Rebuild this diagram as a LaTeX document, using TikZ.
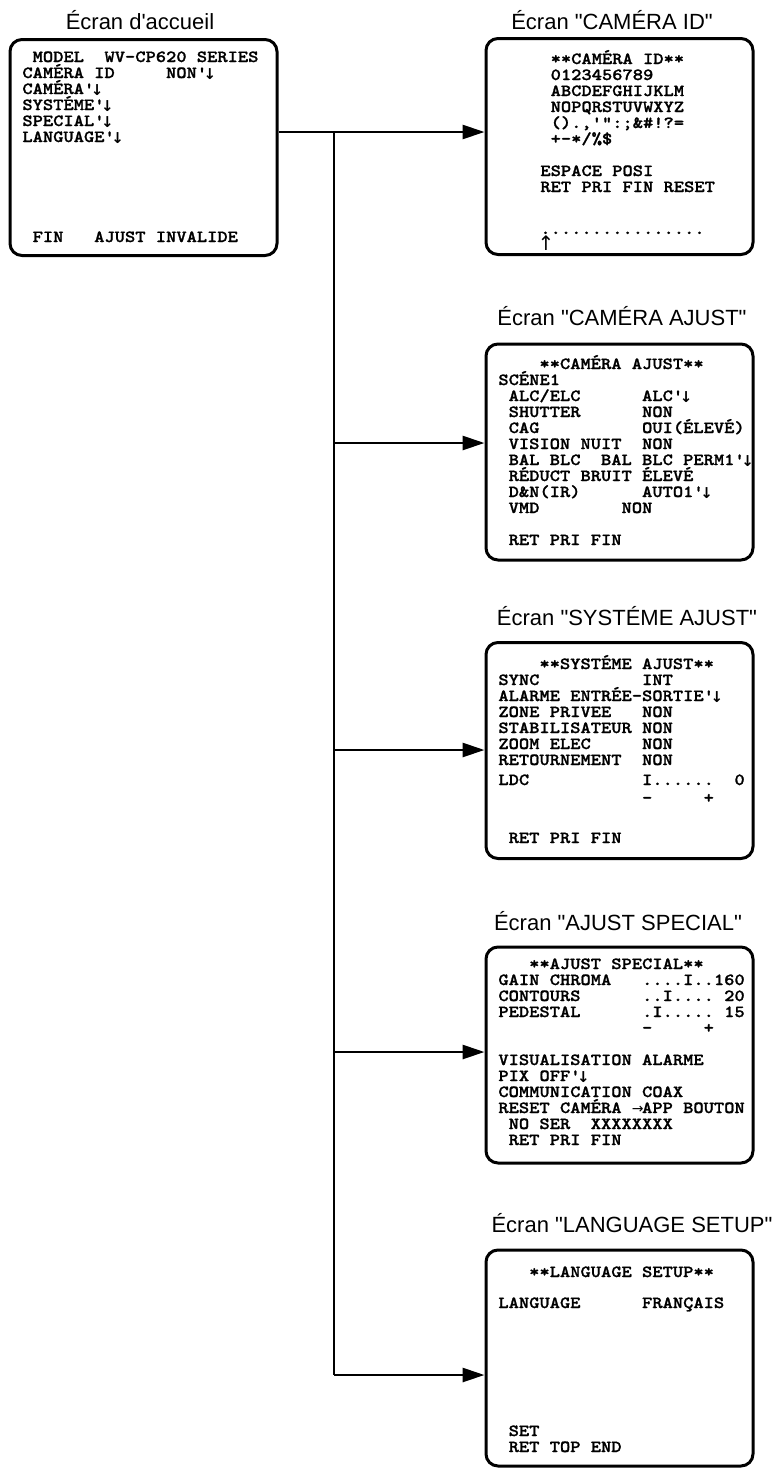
\documentclass[tikz,border=0pt]{standalone}
\usepackage{fontspec}
\usepackage{tikz}
\usetikzlibrary{positioning, arrows.meta, calc}
\newfontfamily\capfont{Liberation Sans}[Ligatures=TeXOff]
\newfontfamily\osdfont{lmmonolt10-bold}[Extension=.otf, FakeStretch=1.15, FakeBold=1.2, Ligatures=TeXOff]
\newfontfamily\symbfont{DejaVu Sans}
\newcommand\retmark{'\kern-0.2em\raisebox{-0.9pt}{\symbfont\bfseries\fontsize{7.5}{7.5}\selectfont ↓}}
\newcommand\rarr{\rlap{\symbfont\fontsize{7}{7}\selectfont →}~}
\tikzset{
    screen/.style={
        draw, line width=1.5pt, rounded corners=6pt,
        minimum width=133.5pt, minimum height=108pt, inner sep=0pt
    },
    osd/.style={
        font=\osdfont\fontsize{8.5}{8}\selectfont\frenchspacing,
        align=left, anchor=base west, inner sep=0pt
    },
    caption/.style={
        font=\capfont\fontsize{11}{12}\selectfont, anchor=base, inner sep=0pt
    },
    conn/.style={
        line width=1.4pt, -{Triangle[length=11pt,width=7pt]}
    },
    trunk/.style={
        line width=1.3pt
    }
}
\begin{document}
\begin{tikzpicture}[x=0.5pt, y=-0.5pt]
    \useasboundingbox (0,0) rectangle (778,1468);

    \node[screen] (home) at (143.5,147.5) {};
    \node[screen] (idscr) at (619.5,146.5) {};
    \node[screen] (camscr) at (619.5,452) {};
    \node[screen] (sysscr) at (619.5,750.5) {};
    \node[screen] (specscr) at (619.5,1055) {};
    \node[screen] (langscr) at (619.5,1358) {};

    \node[caption] (homecap) at (140,29) {Écran d'accueil};
    \node[caption] (idcap) at (612,29) {Écran "CAMÉRA ID"};
    \node[caption] (camcap) at (622,325) {Écran "CAMÉRA AJUST"};
    \node[caption] (syscap) at (627,625) {Écran "SYSTÉME AJUST"};
    \node[caption] (speccap) at (618,930) {Écran "AJUST SPECIAL"};
    \node[caption] (langcap) at (632,1232) {Écran "LANGUAGE SETUP"};

    % multi-line blocks sit on the baseline of their last line
    \node[osd] (hometxt) at (22,142) {~MODEL~~WV-CP620~SERIES\\
        CAMÉRA~ID~~~~~NON\retmark\\
        CAMÉRA\retmark\\
        SYSTÉME\retmark\\
        SPECIAL\retmark\\
        LANGUAGE\retmark};
    \node[osd] (homefoot) at (22,242) {~FIN~~~AJUST~INVALIDE};

    \node[osd] (idtxt) at (540,192) {~**CAMÉRA~ID**\\
        ~0123456789\\
        ~ABCDEFGHIJKLM\\
        ~NOPQRSTUVWXYZ\\
        ~().,'":;\&\#!?=\\
        ~+-*/\%\$\\[8pt]
        ESPACE~POSI\\
        RET~PRI~FIN~RESET};
    \node[osd] (idcursor) at (540,234) {................};
    \node[font=\symbfont\fontsize{10}{10}\selectfont, inner sep=0pt] (idmark) at (546,243) {↑};

    \node[osd] (camtxt) at (498,545) {~~~~**CAMÉRA~AJUST**\\
        SCÉNE1\\
        ~ALC/ELC~~~~~~ALC\retmark\\
        ~SHUTTER~~~~~~NON\\
        ~CAG~~~~~~~~~~OUI(ÉLEVÉ)\\
        ~VISION~NUIT~~NON\\
        ~BAL~BLC~~BAL~BLC~PERM1\retmark\\
        ~RÉDUCT~BRUIT~ÉLEVÉ\\
        ~D\&N(IR)~~~~~~AUTO1\retmark\\
        ~VMD~~~~~~~~NON\\[8pt]
        ~RET~PRI~FIN};

    \node[osd] (systxt) at (498,843) {~~~~**SYSTÉME~AJUST**\\
        SYNC~~~~~~~~~~INT\\
        ALARME~ENTRÉE-SORTIE\retmark\\
        ZONE~PRIVEE~~~NON\\
        STABILISATEUR~NON\\
        ZOOM~ELEC~~~~~NON\\
        RETOURNEMENT~~NON\\[2pt]
        LDC~~~~~~~~~~~I......~~0\\[1pt]
        ~~~~~~~~~~~~~~-~~~~~+\\[12pt]
        ~RET~PRI~FIN};

    \node[osd] (spectxt) at (498,1145) {~~~**AJUST~SPECIAL**\\
        GAIN~CHROMA~~~....I..160\\
        CONTOURS~~~~~~..I....~20\\
        PEDESTAL~~~~~~.I.....~15\\
        ~~~~~~~~~~~~~~-~~~~~+\\[8pt]
        VISUALISATION~ALARME\\
        PIX~OFF\retmark\\
        COMMUNICATION~COAX\\
        RESET~CAMÉRA~\rarr APP~BOUTON\\
        ~NO~SER~~XXXXXXXX\\
        ~RET~PRI~FIN};

    \node[osd] (langtxt) at (498,1308) {~~~**LANGUAGE~SETUP**\\[7.5pt]
        LANGUAGE~~~~~~FRANÇAIS};
    \node[osd] (langfoot) at (498,1452) {~SET\\
        ~RET~TOP~END};

    \coordinate (fork) at (334,132);
    \coordinate (jcam) at (334,443);
    \coordinate (jsys) at (334,750);
    \coordinate (jspec) at (334,1052);
    \coordinate (jlang) at (334,1375);

    \draw[trunk] (fork) -- (jlang);
    \draw[conn] (home.east |- fork) -- (idscr.west |- fork);
    \draw[conn] (jcam) -- (camscr.west |- jcam);
    \draw[conn] (jsys) -- (sysscr.west |- jsys);
    \draw[conn] (jspec) -- (specscr.west |- jspec);
    \draw[conn] (jlang) -- (langscr.west |- jlang);
\end{tikzpicture}
\end{document}
